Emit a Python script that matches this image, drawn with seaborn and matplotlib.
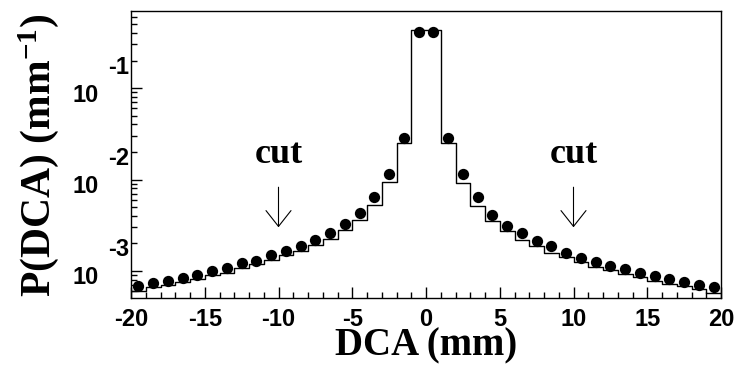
import numpy as np
import pandas as pd
import matplotlib
matplotlib.use("Agg")
import matplotlib.pyplot as plt
import matplotlib.transforms as mtransforms
from matplotlib.ticker import FixedLocator, MultipleLocator, LogLocator, NullFormatter
import seaborn as sns

# 1 mm bins from -20 to 20 mm
bin_edges = np.arange(-20, 21, 1)
bin_centers = bin_edges[:-1] + 0.5

# measured DCA distribution (points), per mm
data_prob = [
    6.76e-4, 7.35e-4, 7.80e-4, 8.47e-4, 9.05e-4, 9.90e-4, 1.077e-3, 1.21e-3,
    1.30e-3, 1.48e-3, 1.66e-3, 1.88e-3, 2.20e-3, 2.60e-3, 3.23e-3, 4.28e-3,
    6.38e-3, 1.16e-2, 2.88e-2, 0.41,
    0.41, 2.88e-2, 1.14e-2, 6.38e-3, 4.14e-3, 3.13e-3, 2.60e-3, 2.13e-3,
    1.87e-3, 1.58e-3, 1.38e-3, 1.26e-3, 1.13e-3, 1.04e-3, 9.50e-4, 8.70e-4,
    8.13e-4, 7.48e-4, 6.94e-4, 6.71e-4,
]

# simulated DCA distribution (histogram), per mm
sim_prob = [
    6.10e-4, 6.70e-4, 7.00e-4, 7.50e-4, 8.10e-4, 8.97e-4, 9.60e-4, 1.07e-3,
    1.18e-3, 1.32e-3, 1.48e-3, 1.67e-3, 1.90e-3, 2.24e-3, 2.82e-3, 3.63e-3,
    5.27e-3, 9.40e-3, 2.48e-2, 0.43,
    0.43, 2.48e-2, 9.20e-3, 5.14e-3, 3.48e-3, 2.75e-3, 2.20e-3, 1.87e-3,
    1.58e-3, 1.43e-3, 1.26e-3, 1.11e-3, 1.03e-3, 9.20e-4, 8.60e-4, 7.80e-4,
    7.20e-4, 6.90e-4, 6.30e-4, 5.80e-4,
]

cut_positions = [-10, 10]
x_tick_values = [-20, -15, -10, -5, 0, 5, 10, 15, 20]
y_tick_exponents = [-1, -2, -3]

sns.set_theme(style="ticks")
plt.rcParams.update({
    "mathtext.fontset": "custom",
    "mathtext.rm": "Liberation Serif:bold",
    "mathtext.bf": "Liberation Serif:bold",
    "mathtext.it": "Liberation Serif:bold",
    "axes.edgecolor": "black",
    "axes.linewidth": 1.0,
})

SANS = "Liberation Sans"
SERIF = "Liberation Serif"

fig = plt.figure(figsize=(7.39, 3.66), dpi=100)
ax = fig.add_axes([131 / 739, 68 / 366, 590 / 739, 287 / 366])

# step histogram of the simulation
hist_df = pd.DataFrame({"dca": bin_edges, "prob": sim_prob + [sim_prob[-1]]})
sns.lineplot(data=hist_df, x="dca", y="prob", drawstyle="steps-post",
             estimator=None, color="black", linewidth=1.0, ax=ax)

# measured points
pts_df = pd.DataFrame({"dca": bin_centers, "prob": data_prob})
sns.scatterplot(data=pts_df, x="dca", y="prob", color="black", s=66,
                linewidth=0, ax=ax, zorder=3)

ax.set_yscale("log")
ax.set_xlim(-20, 20)
ax.set_ylim(5.06e-4, 0.697)

ax.xaxis.set_major_locator(FixedLocator(x_tick_values))
ax.xaxis.set_minor_locator(MultipleLocator(1))
ax.set_xticks(x_tick_values, labels=[str(v) for v in x_tick_values],
              fontsize=17, fontweight="bold", family=SANS)
ax.yaxis.set_major_locator(FixedLocator([10.0 ** e for e in y_tick_exponents]))
ax.yaxis.set_minor_locator(LogLocator(base=10, subs=np.arange(2, 10) * 1.0, numticks=20))
ax.yaxis.set_major_formatter(NullFormatter())
ax.yaxis.set_minor_formatter(NullFormatter())

ax.tick_params(axis="both", which="both", direction="in", top=False, right=False,
               color="black", width=1.0, labelcolor="black")
ax.tick_params(which="major", length=8)
ax.tick_params(which="minor", length=4)
ax.tick_params(axis="x", which="major", pad=7)
ax.set_xlabel("")
ax.set_ylabel("")
for side in ["top", "right", "bottom", "left"]:
    ax.spines[side].set_visible(True)
    ax.spines[side].set_color("black")

# y tick labels written as "10" with a raised exponent
ytrans = mtransforms.blended_transform_factory(ax.transAxes, ax.transData)
for e in y_tick_exponents:
    ax.annotate("10", xy=(0, 10.0 ** e), xycoords=ytrans, xytext=(-32.4, -5.0),
                textcoords="offset points", ha="center", va="center",
                fontsize=17, fontweight="bold", family=SANS, color="black")
    ax.annotate(str(e), xy=(0, 10.0 ** e), xycoords=ytrans, xytext=(-8.6, 15.1),
                textcoords="offset points", ha="center", va="center",
                fontsize=17, fontweight="bold", family=SANS, color="black")

# cut markers
for c in cut_positions:
    ax.annotate("", xy=(c, 3.0e-3), xytext=(c, 8.24e-3),
                arrowprops=dict(arrowstyle="->,head_length=0.95,head_width=0.75",
                                color="black", lw=0.8, shrinkA=0, shrinkB=0))
    ax.text(c, 0.0151, "cut", ha="center", va="baseline", fontsize=26,
            fontweight="bold", family=SERIF, color="black")

fig.text(426 / 739, 1 - 355 / 366, "DCA (mm)", ha="center", va="baseline",
         fontsize=28, fontweight="bold", family=SERIF, color="black")
fig.text(39 / 739, 1 - 155 / 366, r"P(DCA) (mm$^{-1}$)", rotation=90,
         ha="center", va="center", fontsize=30, fontweight="bold",
         family=SERIF, color="black")

fig.savefig("out.png", dpi=100, facecolor="white")
